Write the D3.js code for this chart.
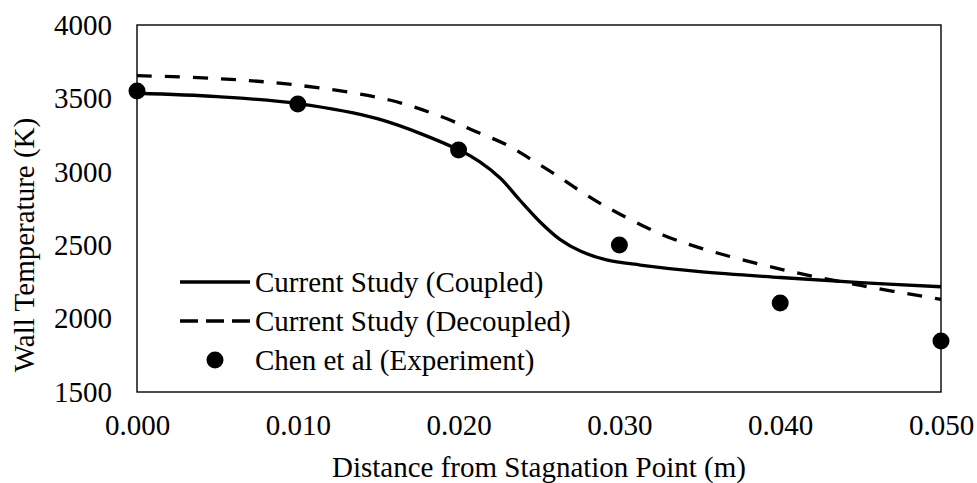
<!DOCTYPE html>
<html>
<head>
<meta charset="utf-8">
<script src="https://cdn.jsdelivr.net/npm/d3@7"></script>
<style>
  body { margin: 0; background: #fff; }
  svg text { font-family: "Liberation Serif", "Times New Roman", Tinos, serif; fill: #000; }
</style>
</head>
<body>
<script>
// data
const coupledX = [0, 0.005, 0.010, 0.015, 0.020, 0.0213, 0.0226, 0.0238, 0.0251, 0.0263, 0.0276, 0.0292, 0.0313, 0.035, 0.040, 0.045, 0.050];
const coupled = [3535, 3512, 3465, 3360, 3150, 3069, 2956, 2808, 2655, 2540, 2458, 2400, 2365, 2320, 2280, 2245, 2217];
const decoupledX = [0, 0.005, 0.010, 0.0157, 0.019, 0.0211, 0.023, 0.0244, 0.0259, 0.0273, 0.0288, 0.0301, 0.0327, 0.035, 0.040, 0.045, 0.050];
const decoupled = [3655, 3635, 3590, 3489, 3373, 3273, 3183, 3092, 2990, 2888, 2785, 2708, 2570, 2482, 2337, 2226, 2131];
const expX = [0, 0.010, 0.020, 0.030, 0.040, 0.050];
const expY = [3550, 3462, 3149, 2501, 2106, 1847];
const xTicks = [0, 0.01, 0.02, 0.03, 0.04, 0.05];
const yTicks = [1500, 2000, 2500, 3000, 3500, 4000];
const legendNames = ['Current Study (Coupled)', 'Current Study (Decoupled)', 'Chen et al (Experiment)'];

const width = 977, height = 483;
const margin = { top: 25, right: 36, bottom: 91, left: 137 };
const fs = 29;
const serif = '"Liberation Serif", "Times New Roman", Tinos, serif';

let svg = d3.select('body').append('svg')
            .attr('width', width).attr('height', height);

const xscale = d3.scaleLinear()
                 .domain([0, 0.05])
                 .range([margin.left, width - margin.right]);

const yscale = d3.scaleLinear()
                 .domain([1500, 4000])
                 .range([height - margin.bottom, margin.top]);

// plot frame
svg.append('rect')
   .attr('x', margin.left).attr('y', margin.top)
   .attr('width', width - margin.left - margin.right)
   .attr('height', height - margin.top - margin.bottom)
   .attr('fill', 'none').attr('stroke', '#000').attr('stroke-width', 1.4);

const yaxis = svg.append('g')
                 .attr('transform', `translate(${margin.left}, 0)`)
                 .call(d3.axisLeft(yscale).tickValues(yTicks).tickFormat(d3.format('d')).tickSize(0).tickPadding(25));
yaxis.attr('font-family', serif);
yaxis.select('.domain').remove();
yaxis.selectAll('text').style('font-size', fs + 'px');

const xaxis = svg.append('g')
                 .attr('transform', `translate(0, ${height - margin.bottom})`)
                 .call(d3.axisBottom(xscale).tickValues(xTicks).tickFormat(d3.format('.3f')).tickSize(0).tickPadding(22));
xaxis.attr('font-family', serif);
xaxis.select('.domain').remove();
xaxis.selectAll('text').style('font-size', fs + 'px');

svg.append('text')
   .attr('x', (margin.left + width - margin.right) / 2)
   .attr('y', 477)
   .attr('text-anchor', 'middle')
   .style('font-size', fs + 'px')
   .text('Distance from Stagnation Point (m)');

svg.append('text')
   .attr('transform', `translate(34, 245) rotate(-90)`)
   .attr('text-anchor', 'middle')
   .style('font-size', fs + 'px')
   .text('Wall Temperature (K)');

const line = d3.line()
               .x(d => xscale(d[0]))
               .y(d => yscale(d[1]))
               .curve(d3.curveCatmullRom.alpha(0.5));

svg.append('path')
   .datum(decoupledX.map((x, i) => [x, decoupled[i]]))
   .attr('d', line)
   .attr('fill', 'none').attr('stroke', '#000')
   .attr('stroke-width', 3.3).attr('stroke-dasharray', '15,13');

svg.append('path')
   .datum(coupledX.map((x, i) => [x, coupled[i]]))
   .attr('d', line)
   .attr('fill', 'none').attr('stroke', '#000')
   .attr('stroke-width', 3.3);

svg.selectAll('circle.exp')
   .data(expX.map((x, i) => [x, expY[i]]))
   .enter()
   .append('circle')
   .attr('class', 'exp')
   .attr('cx', d => xscale(d[0]))
   .attr('cy', d => yscale(d[1]))
   .attr('r', 8.5)
   .attr('fill', '#000');

// legend
const legY = [282, 321, 360];
const legend = svg.append('g');
legend.append('line')
      .attr('x1', 180).attr('x2', 250).attr('y1', legY[0]).attr('y2', legY[0])
      .attr('stroke', '#000').attr('stroke-width', 3.3);
legend.append('line')
      .attr('x1', 180).attr('x2', 250).attr('y1', legY[1]).attr('y2', legY[1])
      .attr('stroke', '#000').attr('stroke-width', 3.3).attr('stroke-dasharray', '18,8');
legend.append('circle')
      .attr('cx', 215).attr('cy', legY[2]).attr('r', 8.5).attr('fill', '#000');
legend.selectAll('text')
      .data(legendNames)
      .enter()
      .append('text')
      .attr('x', 255)
      .attr('y', (d, i) => legY[i])
      .attr('dy', '0.35em')
      .style('font-size', fs + 'px')
      .text(d => d);
</script>
</body>
</html>
